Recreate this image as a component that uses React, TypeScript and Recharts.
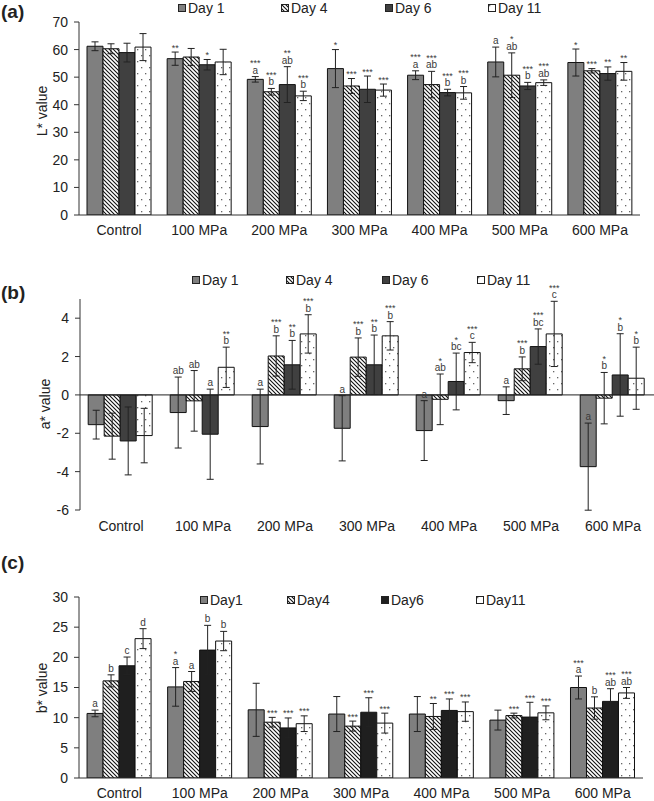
import React from 'react';
import { BarChart, Bar, XAxis, YAxis, ErrorBar, LabelList, Legend, ReferenceLine } from 'recharts';

const categories = ['Control', '100 MPa', '200 MPa', '300 MPa', '400 MPa', '500 MPa', '600 MPa'];

// (a) L* value
const lDay1 = [61.2, 56.7, 49.2, 53.1, 50.7, 55.5, 55.3];
const lDay4 = [60.3, 57.3, 44.7, 46.8, 47.3, 50.7, 52.3];
const lDay6 = [58.9, 54.5, 47.3, 45.6, 44.4, 46.8, 51.3];
const lDay11 = [60.9, 55.5, 43.2, 45.3, 44.3, 48.0, 52.1];
const lErr1 = [1.6, 2.4, 1.0, 6.9, 1.6, 5.4, 4.9];
const lErr4 = [1.8, 3.1, 1.2, 2.7, 4.8, 8.1, 0.8];
const lErr6 = [3.4, 1.9, 6.5, 4.8, 1.2, 1.3, 2.4];
const lErr11 = [4.9, 4.6, 1.7, 2.2, 2.3, 1.0, 3.2];
const lStars1 = ['', '**', '***', '*', '***', '', '*'];
const lStars4 = ['', '', '***', '***', '***', '*', '***'];
const lStars6 = ['', '*', '**', '***', '***', '***', '**'];
const lStars11 = ['', '', '***', '***', '***', '***', '**'];
const lLetters1 = ['', '', 'a', '', 'a', 'a', ''];
const lLetters4 = ['', '', 'b', '', 'ab', 'ab', ''];
const lLetters6 = ['', '', 'ab', '', 'b', 'b', ''];
const lLetters11 = ['', '', 'b', '', 'b', 'ab', ''];

// (b) a* value
const aDay1 = [-1.55, -0.92, -1.65, -1.74, -1.86, -0.3, -3.74];
const aDay4 = [-2.15, -0.31, 2.03, 1.97, -0.23, 1.36, -0.17];
const aDay6 = [-2.4, -2.05, 1.57, 1.57, 0.7, 2.52, 1.04];
const aDay11 = [-2.12, 1.44, 3.18, 3.08, 2.21, 3.18, 0.87];
const aErr1 = [0.75, 1.85, 1.95, 1.7, 1.56, 0.72, 2.27];
const aErr4 = [1.2, 1.58, 1.05, 1.0, 1.32, 0.62, 1.34];
const aErr6 = [1.77, 2.35, 1.27, 1.55, 1.48, 0.92, 2.15];
const aErr11 = [1.42, 1.05, 1.0, 0.74, 0.53, 1.7, 1.62];
const aStars1 = ['', '', '', '', '', '', ''];
const aStars4 = ['', '', '***', '***', '*', '***', '*'];
const aStars6 = ['', '', '**', '**', '*', '***', '*'];
const aStars11 = ['', '**', '***', '***', '***', '***', '*'];
const aLetters1 = ['', 'ab', 'a', 'a', 'a', 'a', 'a'];
const aLetters4 = ['', 'ab', 'b', 'b', 'ab', 'b', 'b'];
const aLetters6 = ['', 'a', 'b', 'b', 'bc', 'bc', 'b'];
const aLetters11 = ['', 'b', 'b', 'b', 'c', 'c', 'b'];

// (c) b* value
const bDay1 = [10.7, 15.1, 11.3, 10.6, 10.6, 9.6, 15.0];
const bDay4 = [16.1, 16.0, 9.25, 8.6, 10.2, 10.35, 11.6];
const bDay6 = [18.6, 21.2, 8.3, 10.9, 11.2, 10.1, 12.7];
const bDay11 = [23.1, 22.7, 9.0, 9.1, 11.0, 10.8, 14.1];
const bErr1 = [0.55, 3.2, 4.4, 2.9, 2.9, 1.65, 1.9];
const bErr4 = [1.0, 1.65, 0.8, 0.83, 2.15, 0.4, 1.85];
const bErr6 = [1.45, 4.1, 1.65, 2.4, 1.9, 2.45, 2.1];
const bErr11 = [1.65, 1.6, 1.3, 1.65, 1.6, 1.15, 0.9];
const bStars1 = ['', '*', '', '', '', '', '***'];
const bStars4 = ['', '', '***', '***', '**', '***', ''];
const bStars6 = ['', '', '***', '***', '***', '***', '***'];
const bStars11 = ['', '', '***', '***', '***', '***', '***'];
const bLetters1 = ['a', 'a', '', '', '', '', 'a'];
const bLetters4 = ['b', 'a', '', '', '', '', 'b'];
const bLetters6 = ['c', 'b', '', '', '', '', 'ab'];
const bLetters11 = ['d', 'b', '', '', '', '', 'ab'];

const namesAB = ['Day 1', 'Day 4', 'Day 6', 'Day 11'];
const namesC = ['Day1', 'Day4', 'Day6', 'Day11'];
const yTicksA = [0, 10, 20, 30, 40, 50, 60, 70];
const yTicksB = [-6, -4, -2, 0, 2, 4];
const yTicksC = [0, 5, 10, 15, 20, 25, 30];

const FONT = '"Liberation Sans", Arial, Helvetica, sans-serif';
const fillsAB = ['#7f7f7f', 'url(#hatchP)', '#404040', 'url(#dotsP)'];
const fillsC = ['#7f7f7f', 'url(#hatchP)', '#1f1f1f', 'url(#dotsP)'];

type Series = { name: string; values: number[]; errs: number[]; stars: string[]; letters: string[]; fill: string };

const mk = (names: string[], fills: string[], vals: number[][], errs: number[][], stars: string[][], letters: string[][]): Series[] =>
  names.map((n, i) => ({ name: n, values: vals[i], errs: errs[i], stars: stars[i], letters: letters[i], fill: fills[i] }));

const seriesA = mk(namesAB, fillsAB, [lDay1, lDay4, lDay6, lDay11], [lErr1, lErr4, lErr6, lErr11],
  [lStars1, lStars4, lStars6, lStars11], [lLetters1, lLetters4, lLetters6, lLetters11]);
const seriesB = mk(namesAB, fillsAB, [aDay1, aDay4, aDay6, aDay11], [aErr1, aErr4, aErr6, aErr11],
  [aStars1, aStars4, aStars6, aStars11], [aLetters1, aLetters4, aLetters6, aLetters11]);
const seriesC = mk(namesC, fillsC, [bDay1, bDay4, bDay6, bDay11], [bErr1, bErr4, bErr6, bErr11],
  [bStars1, bStars4, bStars6, bStars11], [bLetters1, bLetters4, bLetters6, bLetters11]);

const makeAnno = (s: Series) => (p: any) => {
  const idx = p.index;
  if (idx == null) return null;
  const star = s.stars[idx];
  const letter = s.letters[idx];
  if (!star && !letter) return null;
  const vb = p.viewBox && p.viewBox.width != null ? p.viewBox : p;
  const x = Number(vb.x), y = Number(vb.y), w = Number(vb.width), h = Number(vb.height);
  const top = Math.min(y, y + h);
  const bot = Math.max(y, y + h);
  const v = s.values[idx];
  const e = s.errs[idx];
  const ppu = (bot - top) / Math.abs(v);
  const zero = v >= 0 ? bot : top;
  const errTop = zero - (v + e) * ppu;
  const cx = x + w / 2;
  const letterY = errTop - 3;
  const starY = letter ? letterY - 7.5 : errTop - 1.5;
  return (
    <text key={`anno-${s.name}-${idx}`} textAnchor="middle" fill="#3a3a3a" fontFamily={FONT}>
      {star ? (
        <tspan x={cx} y={starY} fontSize={9}>{star}</tspan>
      ) : null}
      {letter ? (
        <tspan x={cx} y={letterY} fontSize={10}>{letter}</tspan>
      ) : null}
    </text>
  );
};

type PanelProps = {
  series: Series[];
  top: number;
  height: number;
  margin: { top: number; right: number; bottom: number; left: number };
  domain: [number, number];
  ticks: number[];
  xAxisHeight: number;
  xTickMargin: number;
  zeroLine: boolean;
  legendTop: number;
  legendXs: number[];
};

function LegendRow({ series, xs }: { series: Series[]; xs: number[] }) {
  return (
    <div style={{ position: 'relative', width: 654, height: 16, fontFamily: FONT, fontSize: 14, color: '#222' }}>
      {series.map((s, i) => (
        <div key={s.name} style={{ position: 'absolute', left: xs[i], top: 0, height: 16, display: 'flex', alignItems: 'center', whiteSpace: 'nowrap' }}>
          <svg width={8} height={8} style={{ display: 'block' }}>
            <rect x={0.5} y={0.5} width={7} height={7} fill={s.fill} stroke="#222" strokeWidth={1} />
          </svg>
          <span style={{ marginLeft: 2, lineHeight: '16px' }}>{s.name}</span>
        </div>
      ))}
    </div>
  );
}

function Panel(props: PanelProps) {
  const { series, top, height, margin, domain, ticks, xAxisHeight, xTickMargin, zeroLine, legendTop, legendXs } = props;
  const data = categories.map((c, i) => {
    const row: any = { cat: c };
    series.forEach((s, k) => {
      row[`v${k}`] = s.values[i];
      row[`e${k}`] = s.errs[i];
    });
    return row;
  });
  return (
    <div style={{ position: 'absolute', left: 0, top, width: 654, height }}>
      <BarChart width={654} height={height} data={data} margin={margin} barCategoryGap="10%" barGap={0}>
        <XAxis
          dataKey="cat"
          interval={0}
          height={xAxisHeight}
          tickSize={0}
          tickMargin={xTickMargin}
          tickLine={false}
          axisLine={zeroLine ? false : { stroke: '#333' }}
          tick={{ fontSize: 14, fill: '#222', fontFamily: FONT }}
        />
        <YAxis
          width={60}
          domain={domain}
          ticks={ticks}
          interval={0}
          allowDataOverflow
          tickSize={5}
          tickMargin={6}
          axisLine={{ stroke: '#333' }}
          tickLine={{ stroke: '#333' }}
          tick={{ fontSize: 14, fill: '#222', fontFamily: FONT }}
        />
        {zeroLine ? <ReferenceLine y={0} stroke="#222" strokeWidth={1} ifOverflow="extendDomain" /> : null}
        <Legend
          layout="horizontal"
          verticalAlign="middle"
          align="center"
          wrapperStyle={{ left: 0, top: legendTop, width: 654, height: 16 }}
          content={() => <LegendRow series={series} xs={legendXs} />}
        />
        {series.map((s, k) => (
          <Bar key={s.name} dataKey={`v${k}`} name={s.name} fill={s.fill} stroke="#111" strokeWidth={1} isAnimationActive={false}>
            <ErrorBar dataKey={`e${k}`} width={3.5} stroke="#222" strokeWidth={1} direction="y" />
            <LabelList dataKey={`v${k}`} content={makeAnno(s)} />
          </Bar>
        ))}
      </BarChart>
    </div>
  );
}

const txt = (s: string, x: number, y: number, size: number, bold: boolean, rotate: boolean) => (
  <div
    style={{
      position: 'absolute',
      left: x,
      top: y,
      transform: `translate(${rotate ? '-50%' : '0'}, -50%)${rotate ? ' rotate(-90deg)' : ''}`,
      whiteSpace: 'nowrap',
      fontFamily: FONT,
      fontSize: size,
      fontWeight: bold ? 700 : 400,
      color: '#222',
      lineHeight: 1,
    }}
  >
    {s}
  </div>
);

export default function App() {
  return (
    <div style={{ position: 'absolute', left: 0, top: 0, width: 654, height: 801, overflow: 'hidden', background: '#fff' }}>
      <style>{`.recharts-surface{overflow:visible}`}</style>
      <svg width={0} height={0} style={{ position: 'absolute' }}>
        <defs>
          <pattern id="hatchP" patternUnits="userSpaceOnUse" width={4} height={4}>
            <rect width={4} height={4} fill="#fff" />
            <path d="M-1,-1 L5,5 M-1,3 L1,5 M3,-1 L5,1" stroke="#111" strokeWidth={1.1} />
          </pattern>
          <pattern id="dotsP" patternUnits="userSpaceOnUse" width={8} height={12}>
            <rect width={8} height={12} fill="#fff" />
            <rect x={1} y={1} width={1.3} height={1.3} fill="#666" />
            <rect x={5} y={7} width={1.3} height={1.3} fill="#666" />
          </pattern>
        </defs>
      </svg>
      <Panel
        series={seriesA}
        top={0}
        height={245}
        margin={{ top: 22, right: 14, bottom: 5, left: 19 }}
        domain={[0, 70]}
        ticks={yTicksA}
        xAxisHeight={25}
        xTickMargin={10}
        zeroLine={false}
        legendTop={0}
        legendXs={[178, 281, 385, 488]}
      />
      <Panel
        series={seriesB}
        top={250}
        height={290}
        margin={{ top: 49, right: 0, bottom: 5, left: 20 }}
        domain={[-6, 5]}
        ticks={yTicksB}
        xAxisHeight={25}
        xTickMargin={11}
        zeroLine={true}
        legendTop={22}
        legendXs={[192, 286, 382, 477]}
      />
      <Panel
        series={seriesC}
        top={540}
        height={261}
        margin={{ top: 57, right: 11, bottom: 3, left: 19 }}
        domain={[0, 30]}
        ticks={yTicksC}
        xAxisHeight={20}
        xTickMargin={10}
        zeroLine={false}
        legendTop={52}
        legendXs={[200, 287, 381, 476]}
      />
      {txt('(a)', 1, 11, 19, true, false)}
      {txt('(b)', 1, 292, 19, true, false)}
      {txt('(c)', 1, 562, 19, true, false)}
      {txt('L* value', 42, 111, 14, false, true)}
      {txt('a* value', 45, 404, 14, false, true)}
      {txt('b* value', 42, 688, 14, false, true)}
    </div>
  );
}
